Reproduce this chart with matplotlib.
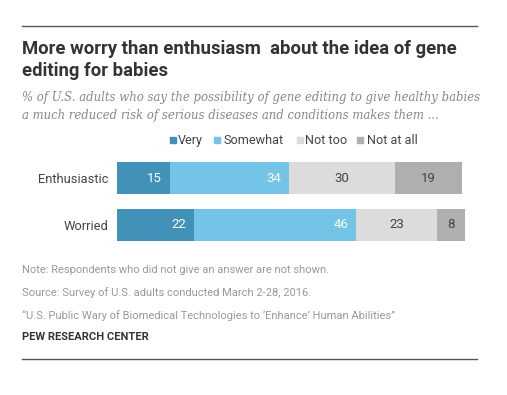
import matplotlib
matplotlib.use("Agg")
import matplotlib.pyplot as plt
from matplotlib.lines import Line2D
from matplotlib.patches import Rectangle

categories = ["Enthusiastic", "Worried"]
series_names = ["Very", "Somewhat", "Not too", "Not at all"]
very = [15, 22]
somewhat = [34, 46]
not_too = [30, 23]
not_at_all = [19, 8]
colors = ["#4191b9", "#73c4e6", "#dcdcdc", "#b0afb0"]
label_colors = ["white", "white", "#444444", "#444444"]

W, H = 507, 395
fig = plt.figure(figsize=(W / 100, H / 100), dpi=100)
fig.patch.set_facecolor("white")

def fx(px):
    return px / W

def fy(py):
    return 1 - py / H

font = "Roboto"

# top and bottom rules
fig.add_artist(Line2D([fx(22), fx(477)], [fy(26), fy(26)], color="#555555", lw=1.0))
fig.add_artist(Line2D([fx(22), fx(477)], [fy(359), fy(359)], color="#555555", lw=1.0))

fig.text(fx(22), fy(49), "More worry than enthusiasm  about the idea of gene",
         fontsize=13.3, fontweight="bold", color="#333333", family=font, va="center", ha="left")
fig.text(fx(22), fy(71), "editing for babies",
         fontsize=13.3, fontweight="bold", color="#333333", family=font, va="center", ha="left")
fig.text(fx(22), fy(98), "% of U.S. adults who say the possibility of gene editing to give healthy babies",
         fontsize=8.4, style="italic", color="#888888", family="DejaVu Serif", va="center", ha="left")
fig.text(fx(22), fy(115), "a much reduced risk of serious diseases and conditions makes them ...",
         fontsize=8.4, style="italic", color="#888888", family="DejaVu Serif", va="center", ha="left")

ax = fig.add_axes([fx(117), fy(248.5), fx(469) - fx(117), (248.5 - 154.5) / H])
series = [very, somewhat, not_too, not_at_all]
ypos = list(range(len(categories)))
left = [0] * len(categories)
for i, (vals, c) in enumerate(zip(series, colors)):
    ax.barh(ypos, vals, left=left, height=0.66, color=c, edgecolor="none")
    for j, v in enumerate(vals):
        if i < 2:
            ax.text(left[j] + v - 2.3, ypos[j], str(v), ha="right", va="center",
                    color=label_colors[i], fontsize=9.5, family=font)
        else:
            ax.text(left[j] + v / 2, ypos[j], str(v), ha="center", va="center",
                    color=label_colors[i], fontsize=9.5, family=font)
    left = [l + v for l, v in zip(left, vals)]

ax.set_xlim(0, 100)
ax.set_ylim(1.5, -0.5)
ax.set_yticks(ypos)
ax.set_yticklabels(categories, fontsize=9.3, family=font, color="#444444")
ax.tick_params(axis="y", length=0, pad=6)
ax.set_xticks([])
for s in ax.spines.values():
    s.set_visible(False)

# legend
leg_items = [(170, 178), (214, 224), (297, 305), (357, 367)]
for (sx, tx), name, c in zip(leg_items, series_names, colors):
    fig.add_artist(Rectangle((fx(sx), fy(143.5)), fx(6), 6 / H, color=c, transform=fig.transFigure))
    fig.text(fx(tx), fy(140.5), name, fontsize=9.1, family=font, color="#444444", va="center", ha="left")

# footer
fig.text(fx(22), fy(270), "Note: Respondents who did not give an answer are not shown.",
         fontsize=8, family=font, color="#999999", va="center", ha="left")
fig.text(fx(22), fy(293), "Source: Survey of U.S. adults conducted March 2-28, 2016.",
         fontsize=8, family=font, color="#999999", va="center", ha="left")
fig.text(fx(22), fy(316), "\u201cU.S. Public Wary of Biomedical Technologies to \u2018Enhance\u2019 Human Abilities\u201d",
         fontsize=8, family=font, color="#999999", va="center", ha="left")
fig.text(fx(22), fy(337), "PEW RESEARCH CENTER",
         fontsize=8, fontweight="bold", family=font, color="#333333", va="center", ha="left")

fig.savefig("out.png", dpi=100, facecolor="white")
